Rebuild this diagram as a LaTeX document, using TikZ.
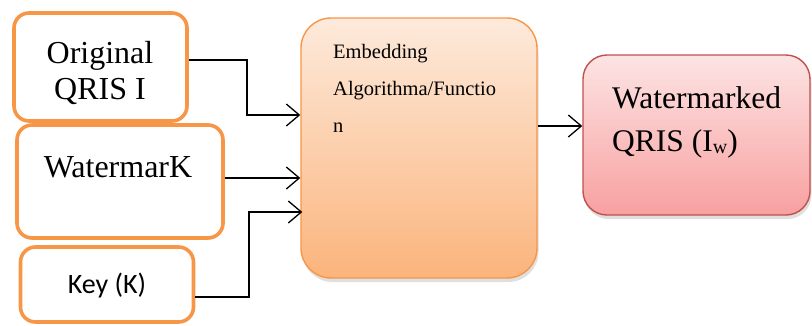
\documentclass[tikz,border=0pt]{standalone}
\usepackage{fontspec}
\setmainfont{Liberation Serif}
\newfontfamily\keyfont{Carlito}
\usetikzlibrary{arrows.meta,shadows}
\definecolor{orng}{HTML}{F79646}
\definecolor{algtop}{HTML}{FDEADC}
\definecolor{algbot}{HTML}{FBB47C}
\definecolor{wmtop}{HTML}{FDE4E4}
\definecolor{wmbot}{HTML}{F8A0A0}
\definecolor{wmborder}{HTML}{C0504D}
\tikzset{
  inbox/.style={draw=orng, line width=3.6pt, rounded corners=15pt, fill=white, inner sep=0pt},
  algbox/.style={draw=orng, line width=1.4pt, rounded corners=30pt, top color=algtop, bottom color=algbot, inner sep=0pt,
    drop shadow={opacity=0.25, shadow xshift=1.5pt, shadow yshift=-4pt}},
  wmbox/.style={draw=wmborder, line width=1.4pt, rounded corners=24pt, top color=wmtop, bottom color=wmbot, inner sep=0pt,
    drop shadow={opacity=0.25, shadow xshift=1.5pt, shadow yshift=-4pt}},
  lbl/.style={inner sep=0pt, anchor=base},
  arr/.style={line width=1.3pt, -{Straight Barb[length=13pt,width=22pt,line width=1.3pt]}},
  conn/.style={line width=1.3pt}
}
\begin{document}
\begin{tikzpicture}[x=1pt,y=-1pt]
\useasboundingbox (0,0) rectangle (812,325);
% input boxes
\node[inbox, minimum width=173pt, minimum height=108pt] (b1) at (100.5,67) {};
\node[inbox, minimum width=206pt, minimum height=113pt] (b2) at (120,181.5) {};
\node[inbox, minimum width=173pt, minimum height=75pt] (b3) at (107,284.5) {};
% central and output boxes
\node[algbox, minimum width=236pt, minimum height=260pt] (alg) at (419,148) {};
\node[wmbox, minimum width=227pt, minimum height=160pt] (wm) at (696.5,135) {};
% texts
\node[lbl, font=\fontsize{32}{36}\selectfont] (t1a) at (100,63) {Original};
\node[lbl, font=\fontsize{32}{36}\selectfont] (t1b) at (100,99) {QRIS I};
\node[lbl, font=\fontsize{32}{36}\selectfont] (t2) at (118,177) {WatermarK};
\node[lbl, font=\keyfont\fontsize{28}{32}\selectfont] (t3) at (107,293) {Key (K)};
\node[lbl, anchor=base west, font=\fontsize{20.5}{24}\selectfont] (ta) at (333,58) {Embedding};
\node[lbl, anchor=base west, font=\fontsize{20.5}{24}\selectfont] (tb) at (333,95) {Algorithma/Functio};
\node[lbl, anchor=base west, font=\fontsize{20.5}{24}\selectfont] (tc) at (333,132) {n};
\node[lbl, anchor=base west, font=\fontsize{31.5}{36}\selectfont] (tw1) at (612,108) {Watermarked};
\node[lbl, anchor=base west, font=\fontsize{31.5}{36}\selectfont] (tw2) at (612,151) {QRIS (I{\fontsize{20}{24}\selectfont\raisebox{-2pt}{w}})};
% coordinates for bends
\coordinate (c1) at (247,60);
\coordinate (c1b) at (247,115);
\coordinate (c2) at (0,178);
\coordinate (c3) at (249,297);
\coordinate (c3b) at (249,212);
\coordinate (c4) at (0,126);
% connectors
\draw[arr] (b1.east |- c1) -- (c1) -- (c1b) -- (alg.west |- c1b);
\draw[arr] (b2.east |- c2) -- (alg.west |- c2);
\draw[arr] (b3.east |- c3) -- (c3) -- (c3b) -- ([xshift=2pt]alg.west |- c3b);
\draw[arr] (alg.east |- c4) -- (wm.west |- c4);
\end{tikzpicture}
\end{document}
